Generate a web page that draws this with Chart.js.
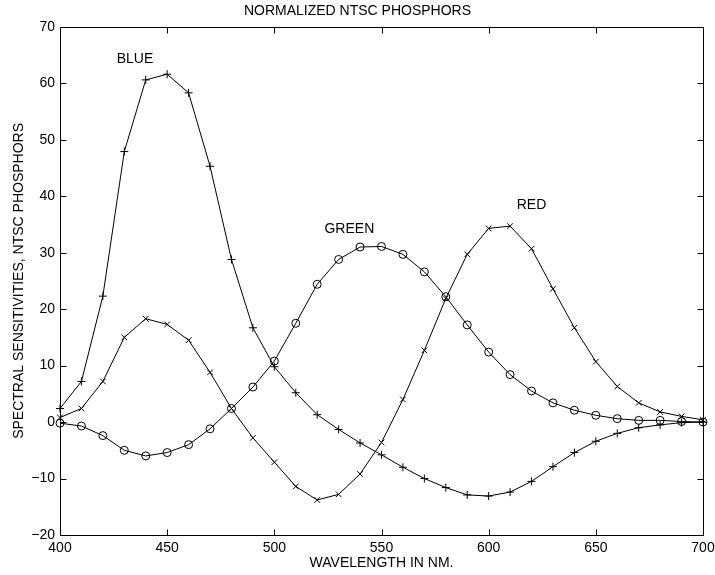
<!DOCTYPE html>
<html>
<head>
<meta charset="utf-8">
<title>Normalized NTSC phosphors</title>
<script src="https://cdn.jsdelivr.net/npm/chart.js@4.4.1/dist/chart.umd.min.js"></script>
<style>
  html, body { margin: 0; padding: 0; background: #fff; }
  #wrap { width: 715px; height: 575px; }
</style>
</head>
<body>
<div id="wrap"><canvas id="phosphors" width="715" height="575"></canvas></div>
<script>
'use strict';
//****************************
//DATA
//****************************
// wavelengths in nm, one sample every 10 nm
var wavelengths = [400, 410, 420, 430, 440, 450, 460, 470, 480, 490, 500,
  510, 520, 530, 540, 550, 560, 570, 580, 590, 600,
  610, 620, 630, 640, 650, 660, 670, 680, 690, 700];

var blue = [2.4, 7.2, 22.3, 47.9, 60.6, 61.6, 58.3, 45.3, 28.8, 16.7, 9.8,
  5.2, 1.3, -1.3, -3.7, -5.8, -8.0, -10.0, -11.6, -12.9, -13.1,
  -12.4, -10.5, -7.9, -5.4, -3.4, -2.0, -1.0, -0.5, -0.1, 0.0];

var green = [-0.2, -0.7, -2.4, -5.0, -6.0, -5.4, -4.0, -1.2, 2.4, 6.2, 10.8,
  17.5, 24.4, 28.8, 31.0, 31.1, 29.7, 26.6, 22.2, 17.2, 12.4,
  8.4, 5.5, 3.4, 2.1, 1.2, 0.6, 0.3, 0.3, 0.1, 0.0];

var red = [0.8, 2.4, 7.2, 15.0, 18.3, 17.3, 14.5, 8.8, 2.4, -2.8, -7.1,
  -11.4, -13.8, -12.8, -9.2, -3.6, 4.0, 12.7, 21.9, 29.7, 34.3,
  34.7, 30.7, 23.6, 16.7, 10.7, 6.3, 3.4, 1.8, 1.0, 0.4];

// curve names and where they sit (nm, sensitivity)
var curveNames = ['BLUE', 'GREEN', 'RED'];
var nameAtX = [435, 535, 620];
var nameAtY = [64.2, 34.1, 38.4];

// axis ranges
var xRange = [400, 700];
var xStep = 50;
var yRange = [-20, 70];
var yStep = 10;

var FONT = '"Liberation Sans", Arial, Helvetica, sans-serif';

function points(values) {
  var out = [];
  for (var i = 0; i < wavelengths.length; i++) {
    out.push({ x: wavelengths[i], y: values[i] });
  }
  return out;
}

function curve(label, values, marker) {
  return {
    label: label,
    data: points(values),
    borderColor: '#000',
    borderWidth: 1,
    pointStyle: marker,
    pointRadius: 4,
    pointBorderWidth: 1,
    pointBorderColor: '#000',
    pointBackgroundColor: 'rgba(0,0,0,0)',
    tension: 0,
    clip: false
  };
}

// box around the plot with inward ticks on all four sides, plus curve names
var framePlugin = {
  id: 'frame',
  afterDraw: function (chart) {
    var ctx = chart.ctx;
    var a = chart.chartArea;
    var xs = chart.scales.x;
    var ys = chart.scales.y;
    var tick = 6;
    var L = Math.round(a.left) + 0.5;
    var R = Math.round(a.right) + 0.5;
    var T = Math.round(a.top) + 0.5;
    var B = Math.round(a.bottom) + 0.5;

    ctx.save();
    ctx.strokeStyle = '#000';
    ctx.lineWidth = 1;
    ctx.beginPath();
    ctx.rect(L, T, R - L, B - T);
    xs.ticks.forEach(function (t) {
      var px = Math.round(xs.getPixelForValue(t.value)) + 0.5;
      ctx.moveTo(px, B); ctx.lineTo(px, B - tick);
      ctx.moveTo(px, T); ctx.lineTo(px, T + tick);
    });
    ys.ticks.forEach(function (t) {
      var py = Math.round(ys.getPixelForValue(t.value)) + 0.5;
      ctx.moveTo(L, py); ctx.lineTo(L + tick, py);
      ctx.moveTo(R, py); ctx.lineTo(R - tick, py);
    });
    ctx.stroke();

    ctx.fillStyle = '#000';
    ctx.font = '14px ' + FONT;
    ctx.textAlign = 'center';
    ctx.textBaseline = 'middle';
    for (var i = 0; i < curveNames.length; i++) {
      ctx.fillText(curveNames[i], xs.getPixelForValue(nameAtX[i]), ys.getPixelForValue(nameAtY[i]));
    }
    ctx.restore();
  }
};

function minusSign(v) {
  return String(v).replace('-', '\u2212');
}

var ctx = document.getElementById('phosphors').getContext('2d');
var chart = new Chart(ctx, {
  type: 'line',
  data: {
    datasets: [
      curve('Blue', blue, 'cross'),
      curve('Green', green, 'circle'),
      curve('Red', red, 'crossRot')
    ]
  },
  options: {
    responsive: false,
    animation: false,
    events: [],
    layout: { padding: { left: 0, right: 0, top: 0, bottom: 0 } },
    plugins: {
      legend: { display: false },
      tooltip: { enabled: false },
      title: {
        display: true,
        text: 'NORMALIZED NTSC PHOSPHORS',
        color: '#000',
        font: { family: FONT, size: 14, weight: 'normal' },
        padding: { top: 3, bottom: 7 }
      }
    },
    scales: {
      x: {
        type: 'linear',
        min: xRange[0],
        max: xRange[1],
        grid: { display: false, drawTicks: false },
        border: { display: false },
        ticks: {
          stepSize: xStep,
          color: '#000',
          padding: 5,
          maxRotation: 0,
          font: { family: FONT, size: 14 },
          callback: minusSign
        },
        title: {
          display: true,
          text: 'WAVELENGTH IN NM.',
          color: '#000',
          font: { family: FONT, size: 14 },
          padding: { top: 0, bottom: 3.5 }
        },
        afterFit: function (s) {
          s.height = 40;
          s.paddingLeft = 0;
          s.paddingRight = 12;
        }
      },
      y: {
        type: 'linear',
        min: yRange[0],
        max: yRange[1],
        grid: { display: false, drawTicks: false },
        border: { display: false },
        ticks: {
          stepSize: yStep,
          color: '#000',
          padding: 5,
          font: { family: FONT, size: 14 },
          callback: minusSign
        },
        title: {
          display: true,
          text: 'SPECTRAL SENSITIVITIES, NTSC PHOSPHORS',
          color: '#000',
          font: { family: FONT, size: 14 },
          padding: { top: 10.5, bottom: 0 }
        },
        afterFit: function (s) { s.width = 60; }
      }
    }
  },
  plugins: [framePlugin]
});
</script>
</body>
</html>
